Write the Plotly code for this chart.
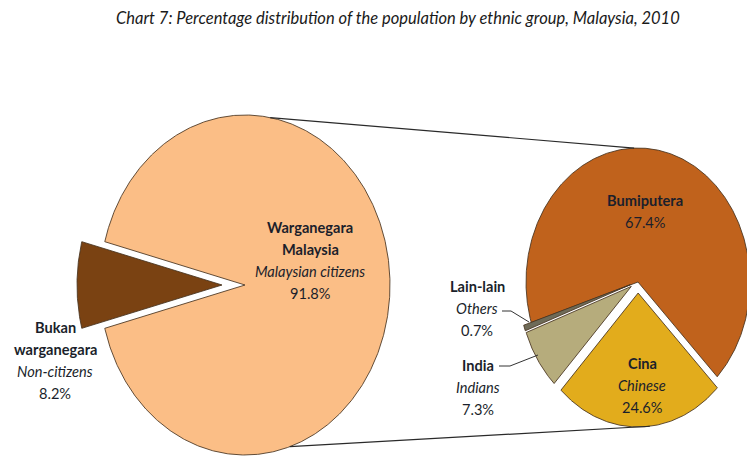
import numpy as np
import plotly.graph_objects as go

# ---- data ----
citizen_labels = ["Warganegara Malaysia", "Bukan warganegara"]
citizen_english = ["Malaysian citizens", "Non-citizens"]
citizen_values = [91.8, 8.2]

ethnic_labels = ["Bumiputera", "Lain-lain", "India", "Cina"]
ethnic_english = ["", "Others", "Indians", "Chinese"]
ethnic_values = [67.4, 0.7, 7.3, 24.6]

title_text = "Chart 7: Percentage distribution of the population by ethnic group, Malaysia, 2010"

# ---- styling ----
W, H = 747, 457
citizen_colors = ["#FBBE86", "#7A4212"]
ethnic_colors = ["#C0621C", "#6E6B58", "#B6AC7C", "#E2AC1C"]
edge_color = "rgba(70,50,30,0.85)"
font_family = "Lato, 'Open Sans', sans-serif"
text_dark = "#1B1F2B"

# pie geometry (pixel space; the y axis runs downward)
LEFT = dict(cx=245, cy=285, rx=145, ry=170)
RIGHT = dict(cx=638, cy=282, rx=112, ry=134)


def ellipse_pt(p, ang_deg, offset=(0.0, 0.0)):
    a = np.radians(ang_deg)
    return (p["cx"] + offset[0] + p["rx"] * np.cos(a),
            p["cy"] + offset[1] - p["ry"] * np.sin(a))


def slice_xy(p, a0, a1, explode=0.0):
    mid = np.radians((a0 + a1) / 2)
    off = (explode * np.cos(mid), -explode * np.sin(mid))
    angs = np.linspace(a0, a1, max(8, int(abs(a1 - a0) * 2)))
    xs = [p["cx"] + off[0]]
    ys = [p["cy"] + off[1]]
    for a in angs:
        x, y = ellipse_pt(p, a, off)
        xs.append(x)
        ys.append(y)
    xs.append(p["cx"] + off[0])
    ys.append(p["cy"] + off[1])
    return xs, ys


fig = go.Figure()

# left pie: citizenship split, non-citizens slice centred on the left and pulled out
noncit_span = citizen_values[1] / sum(citizen_values) * 360
cit_span = citizen_values[0] / sum(citizen_values) * 360
left_slices = [
    (180 + noncit_span / 2 - 360, 180 + noncit_span / 2 - 360 + cit_span, 0.0),
    (180 - noncit_span / 2, 180 + noncit_span / 2, 23.0),
]
for (a0, a1, ex), col, name in zip(left_slices, citizen_colors, citizen_labels):
    xs, ys = slice_xy(LEFT, a0, a1, ex)
    fig.add_trace(go.Scatter(x=xs, y=ys, fill="toself", fillcolor=col, mode="lines",
                             line=dict(color=edge_color, width=1), name=name,
                             hoverinfo="name"))

# right pie: ethnic breakdown, counter-clockwise from the lower right
explode = [0.0, 8.0, 8.0, 11.0]
start = -45.0
ethnic_angles = []
tot = sum(ethnic_values)
for v in ethnic_values:
    span = v / tot * 360
    ethnic_angles.append((start, start + span))
    start += span
for (a0, a1), ex, col, name in zip(ethnic_angles, explode, ethnic_colors, ethnic_labels):
    xs, ys = slice_xy(RIGHT, a0, a1, ex)
    fig.add_trace(go.Scatter(x=xs, y=ys, fill="toself", fillcolor=col, mode="lines",
                             line=dict(color=edge_color, width=1), name=name,
                             hoverinfo="name"))

# connector lines between the two pies
top_l = ellipse_pt(LEFT, 80)
top_r = ellipse_pt(RIGHT, 92)
bot_l = ellipse_pt(LEFT, -72)
cina_mid = np.radians(sum(ethnic_angles[3]) / 2)
bot_r = ellipse_pt(RIGHT, -84, (11 * np.cos(cina_mid), -11 * np.sin(cina_mid)))
for p0, p1 in [(top_l, top_r), (bot_l, bot_r)]:
    fig.add_trace(go.Scatter(x=[p0[0], p1[0]], y=[p0[1], p1[1]], mode="lines",
                             line=dict(color="#2a2a2a", width=1.2), hoverinfo="skip"))

# leader lines for the small slices
fig.add_trace(go.Scatter(x=[502, 511, 529], y=[311, 311, 322], mode="lines",
                         line=dict(color="#333333", width=1), hoverinfo="skip"))
fig.add_trace(go.Scatter(x=[499, 510, 538], y=[366, 366, 355], mode="lines",
                         line=dict(color="#333333", width=1), hoverinfo="skip"))


def label(x, y, lines, size=14.6):
    for i, (txt, style) in enumerate(lines):
        if style == "b":
            t = "<b>" + txt + "</b>"
        elif style == "i":
            t = "<i>" + txt + "</i>"
        else:
            t = txt
        fig.add_annotation(x=x, y=y + i * 22, xref="x", yref="y", text=t,
                           showarrow=False, xanchor="center", yanchor="middle",
                           font=dict(family=font_family, size=size, color=text_dark))


def pct(v):
    return f"{v:.1f}%"


label(310, 227, [("Warganegara", "b"), ("Malaysia", "b"),
                 (citizen_english[0], "i"), (pct(citizen_values[0]), "")])
label(55, 327, [("Bukan", "b"), ("warganegara", "b"),
                (citizen_english[1], "i"), (pct(citizen_values[1]), "")])
label(645, 200, [(ethnic_labels[0], "b"), (pct(ethnic_values[0]), "")])
label(477, 286, [(ethnic_labels[1], "b"), (ethnic_english[1], "i"), (pct(ethnic_values[1]), "")])
label(478, 365, [(ethnic_labels[2], "b"), (ethnic_english[2], "i"), (pct(ethnic_values[2]), "")])
label(642, 363, [(ethnic_labels[3], "b"), (ethnic_english[3], "i"), (pct(ethnic_values[3]), "")])

fig.add_annotation(x=398, y=18, xref="x", yref="y", text="<i>" + title_text + "</i>",
                   showarrow=False, xanchor="center", yanchor="middle",
                   font=dict(family=font_family, size=16.5, color="#1a1a1a"))

fig.update_layout(
    width=W, height=H, margin=dict(l=0, r=0, t=0, b=0),
    paper_bgcolor="white", plot_bgcolor="white", showlegend=False,
    xaxis=dict(range=[0, W], visible=False, fixedrange=True),
    yaxis=dict(range=[H, 0], visible=False, fixedrange=True),
)

fig.write_html("out.html")
